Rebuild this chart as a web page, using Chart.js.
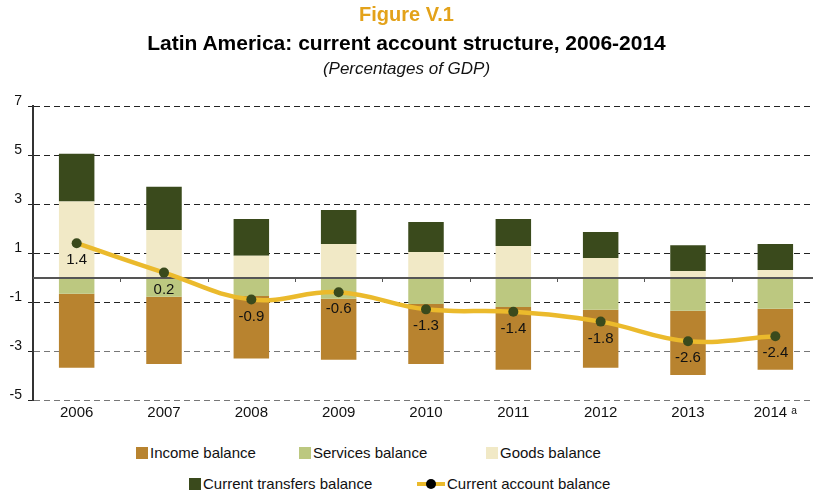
<!DOCTYPE html>
<html>
<head>
<meta charset="utf-8">
<script src="https://cdn.jsdelivr.net/npm/chart.js@4.4.1/dist/chart.umd.min.js"></script>
<style>
  html, body { margin: 0; padding: 0; background: #fff; overflow: hidden; }
  body { width: 813px; height: 494px; position: relative; font-family: "Liberation Sans", Arial, sans-serif; }
  .head { position: absolute; left: 0; width: 813px; text-align: center; white-space: nowrap; }
  #fig { top: 3px; font-size: 20px; font-weight: bold; color: #E3A21A; }
  #ttl { top: 31px; font-size: 21px; font-weight: bold; color: #000; }
  #sub { top: 59px; font-size: 17px; font-style: italic; color: #111; }
  #wrap { position: absolute; left: 0; top: 0; width: 824px; height: 430px; }
  .lg { position: absolute; font-size: 15px; color: #111; white-space: nowrap; line-height: 18px; }
  .sw { display: inline-block; width: 12px; height: 12px; vertical-align: -1px; margin-right: 2px; }
  .ln { display: inline-block; position: relative; width: 28px; height: 12px; vertical-align: -1px; margin-right: 2px; }
  .ln::before { content: ""; position: absolute; left: 0; right: 0; top: 4px; height: 4px; background: #EBBA2C; }
  .ln::after { content: ""; position: absolute; left: 9px; top: 1px; width: 10px; height: 10px; border-radius: 50%; background: #000; }
</style>
</head>
<body>
<div id="wrap"><canvas id="chart" width="824" height="430"></canvas></div>
<div class="head" id="fig">Figure V.1</div>
<div class="head" id="ttl">Latin America: current account structure, 2006-2014</div>
<div class="head" id="sub">(Percentages of GDP)</div>

<div class="lg" style="left:136px; top:444px;"><span class="sw" style="background:#B8832F"></span>Income balance</div>
<div class="lg" style="left:299px; top:444px;"><span class="sw" style="background:#BCC880"></span>Services balance</div>
<div class="lg" style="left:486px; top:444px;"><span class="sw" style="background:#F1E9C6"></span>Goods balance</div>
<div class="lg" style="left:189px; top:475px;"><span class="sw" style="background:#3A4A1C"></span>Current transfers balance</div>
<div class="lg" style="left:417px; top:475px;"><span class="ln"></span>Current account balance</div>

<script>
const years = ['2006', '2007', '2008', '2009', '2010', '2011', '2012', '2013', '2014 ᵃ'];
const incomeBalance = [-3.02, -2.74, -2.55, -2.49, -2.45, -2.57, -2.36, -2.62, -2.49];
const servicesBalance = [-0.66, -0.79, -0.76, -0.87, -1.08, -1.20, -1.32, -1.36, -1.28];
const goodsBalance = [3.10, 1.94, 0.89, 1.37, 1.04, 1.29, 0.80, 0.27, 0.31];
const transfersBalance = [1.95, 1.76, 1.50, 1.39, 1.23, 1.10, 1.06, 1.05, 1.06];
const currentAccount = [1.4, 0.2, -0.9, -0.6, -1.3, -1.4, -1.8, -2.6, -2.4];
const yTicks = [-5, -3, -1, 1, 3, 5, 7];

// zero line with small separators between years, drawn under the line series
const zeroLine = {
    id: 'zeroLine',
    beforeDatasetDraw(chart, args) {
        if (args.meta.type !== 'line') {
            return;
        }
        const { ctx, chartArea, scales: { x, y } } = chart;
        const y0 = Math.round(y.getPixelForValue(0));
        ctx.save();
        ctx.strokeStyle = '#555';
        ctx.lineWidth = 2;
        ctx.beginPath();
        ctx.moveTo(chartArea.left, y0);
        ctx.lineTo(chartArea.right, y0);
        ctx.stroke();
        ctx.lineWidth = 1;
        for (let i = 1; i < years.length; i++) {
            const xb = Math.round((x.getPixelForValue(i - 1) + x.getPixelForValue(i)) / 2) + 0.5;
            ctx.beginPath();
            ctx.moveTo(xb, y0);
            ctx.lineTo(xb, y0 + 4);
            ctx.stroke();
        }
        ctx.restore();
    },
};

// value labels under each current account point
const pointLabels = {
    id: 'pointLabels',
    afterDatasetsDraw(chart) {
        const { ctx } = chart;
        const idx = chart.data.datasets.findIndex((d) => d.type === 'line');
        const meta = chart.getDatasetMeta(idx);
        ctx.save();
        ctx.font = '15px "Liberation Sans", Arial, sans-serif';
        ctx.fillStyle = '#111';
        ctx.textAlign = 'center';
        ctx.textBaseline = 'middle';
        meta.data.forEach((pt, i) => {
            ctx.fillText(currentAccount[i].toFixed(1), pt.x, pt.y + 17);
        });
        ctx.restore();
    },
};

const barOpts = { stack: 'bars', barPercentage: 0.8, categoryPercentage: 0.508 };

new Chart(document.getElementById('chart'), {
    data: {
        labels: years,
        datasets: [
            { type: 'bar', label: 'Services balance', data: servicesBalance, backgroundColor: '#BCC880', ...barOpts },
            { type: 'bar', label: 'Income balance', data: incomeBalance, backgroundColor: '#B8832F', ...barOpts },
            { type: 'bar', label: 'Goods balance', data: goodsBalance, backgroundColor: '#F1E9C6', ...barOpts },
            { type: 'bar', label: 'Current transfers balance', data: transfersBalance, backgroundColor: '#3A4A1C', ...barOpts },
            {
                type: 'line',
                label: 'Current account balance',
                data: currentAccount,
                stack: 'ca',
                order: -1,
                borderColor: '#EBBA2C',
                borderWidth: 4.5,
                tension: 0.4,
                pointRadius: 5,
                pointBackgroundColor: '#3A4A1C',
                pointBorderColor: '#3A4A1C',
                pointBorderWidth: 0,
            },
        ],
    },
    options: {
        responsive: false,
        animation: false,
        layout: { padding: { top: 106, left: 0, right: 0, bottom: 0 } },
        plugins: {
            legend: { display: false },
            tooltip: { enabled: false },
        },
        scales: {
            x: {
                stacked: true,
                offset: true,
                grid: { display: false, drawTicks: false },
                border: { display: false },
                ticks: {
                    padding: 4,
                    color: '#111',
                    font: { family: '"Liberation Sans", Arial, sans-serif', size: 15 },
                    maxRotation: 0,
                },
                afterFit(scale) { scale.height = 30; },
            },
            y: {
                stacked: true,
                min: -5,
                max: 7,
                afterBuildTicks(scale) { scale.ticks = yTicks.map((v) => ({ value: v })); },
                grid: {
                    color: (c) => (c.tick && c.tick.value <= -3 ? '#777' : '#222'),
                    lineWidth: 1,
                    drawTicks: true,
                    tickLength: 5,
                    tickColor: '#222',
                    tickBorderDash: [],
                },
                border: { display: true, color: '#333', width: 2, dash: [6, 4] },
                ticks: {
                    padding: 6,
                    labelOffset: -5,
                    color: '#111',
                    font: { family: '"Liberation Sans", Arial, sans-serif', size: 14 },
                },
                afterFit(scale) { scale.width = 33; },
            },
        },
    },
    plugins: [zeroLine, pointLabels],
});
</script>
</body>
</html>
